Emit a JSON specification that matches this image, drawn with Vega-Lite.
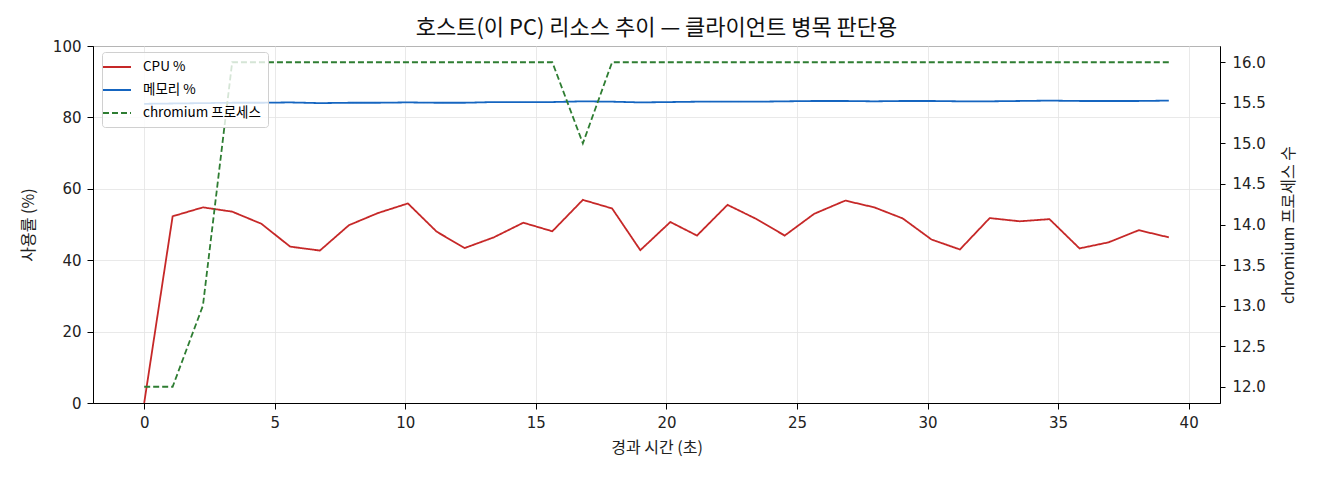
{
  "$schema": "https://vega.github.io/schema/vega-lite/v6.json",
  "width": 1127,
  "height": 357,
  "autosize": {"type": "none"},
  "padding": {"left": 93, "top": 46, "right": 100, "bottom": 77},
  "background": "white",
  "config": {
    "font": "Noto Sans CJK KR",
    "view": {"stroke": "black", "strokeWidth": 1},
    "axis": {
      "labelFont": "DejaVu Sans",
      "titleFont": "Noto Sans CJK KR",
      "labelFontSize": 15,
      "titleFontSize": 16,
      "titleFontWeight": "normal",
      "labelColor": "#222",
      "titleColor": "#222",
      "domainColor": "black",
      "tickColor": "black",
      "tickSize": 5,
      "labelPadding": 5,
      "gridColor": "#e3e3e3",
      "gridWidth": 0.8
    },
    "legend": {"labelFont": "Noto Sans CJK KR", "labelFontSize": 13.5}
  },
  "title": {
    "text": "호스트(이 PC) 리소스 추이 — 클라이언트 병목 판단용",
    "fontSize": 22,
    "fontWeight": "normal",
    "font": "Noto Sans CJK KR",
    "color": "#111",
    "anchor": "middle",
    "offset": 5,
    "dy": 6
  },
  "data": {
    "values": [
      {"t": 0, "cpu": 0, "mem": 83.8, "chromium": 12},
      {"t": 1.09, "cpu": 52.3, "mem": 83.9, "chromium": 12},
      {"t": 2.25, "cpu": 54.8, "mem": 84.0, "chromium": 13},
      {"t": 3.37, "cpu": 53.6, "mem": 84.1, "chromium": 16},
      {"t": 4.49, "cpu": 50.2, "mem": 84.1, "chromium": 16},
      {"t": 5.59, "cpu": 43.8, "mem": 84.2, "chromium": 16},
      {"t": 6.73, "cpu": 42.7, "mem": 84.0, "chromium": 16},
      {"t": 7.84, "cpu": 49.8, "mem": 84.1, "chromium": 16},
      {"t": 8.95, "cpu": 53.2, "mem": 84.1, "chromium": 16},
      {"t": 10.1, "cpu": 55.9, "mem": 84.2, "chromium": 16},
      {"t": 11.2, "cpu": 48.0, "mem": 84.1, "chromium": 16},
      {"t": 12.27, "cpu": 43.4, "mem": 84.1, "chromium": 16},
      {"t": 13.39, "cpu": 46.4, "mem": 84.3, "chromium": 16},
      {"t": 14.52, "cpu": 50.5, "mem": 84.3, "chromium": 16},
      {"t": 15.63, "cpu": 48.1, "mem": 84.3, "chromium": 16},
      {"t": 16.8, "cpu": 56.9, "mem": 84.5, "chromium": 15},
      {"t": 17.92, "cpu": 54.5, "mem": 84.4, "chromium": 16},
      {"t": 19.0, "cpu": 42.8, "mem": 84.2, "chromium": 16},
      {"t": 20.15, "cpu": 50.7, "mem": 84.3, "chromium": 16},
      {"t": 21.17, "cpu": 46.9, "mem": 84.4, "chromium": 16},
      {"t": 22.34, "cpu": 55.5, "mem": 84.4, "chromium": 16},
      {"t": 23.43, "cpu": 51.6, "mem": 84.4, "chromium": 16},
      {"t": 24.53, "cpu": 46.9, "mem": 84.5, "chromium": 16},
      {"t": 25.66, "cpu": 53.0, "mem": 84.6, "chromium": 16},
      {"t": 26.85, "cpu": 56.7, "mem": 84.6, "chromium": 16},
      {"t": 27.96, "cpu": 54.8, "mem": 84.5, "chromium": 16},
      {"t": 29.05, "cpu": 51.7, "mem": 84.6, "chromium": 16},
      {"t": 30.15, "cpu": 45.8, "mem": 84.6, "chromium": 16},
      {"t": 31.24, "cpu": 43.0, "mem": 84.5, "chromium": 16},
      {"t": 32.38, "cpu": 51.8, "mem": 84.5, "chromium": 16},
      {"t": 33.53, "cpu": 50.9, "mem": 84.6, "chromium": 16},
      {"t": 34.67, "cpu": 51.5, "mem": 84.7, "chromium": 16},
      {"t": 35.82, "cpu": 43.3, "mem": 84.6, "chromium": 16},
      {"t": 36.93, "cpu": 45.0, "mem": 84.6, "chromium": 16},
      {"t": 38.09, "cpu": 48.4, "mem": 84.6, "chromium": 16},
      {"t": 39.24, "cpu": 46.4, "mem": 84.7, "chromium": 16}
    ]
  },
  "encoding": {
    "x": {
      "field": "t",
      "type": "quantitative",
      "scale": {"domain": [-1.96, 41.2], "nice": false, "zero": false},
      "axis": {"values": [0, 5, 10, 15, 20, 25, 30, 35, 40], "title": "경과 시간 (초)", "titlePadding": 9, "grid": true, "tickSize": 6, "labelPadding": 6}
    }
  },
  "layer": [
    {
      "transform": [{"fold": ["cpu", "mem"], "as": ["series", "value"]}],
      "mark": {"type": "line", "strokeWidth": 1.8, "clip": true},
      "encoding": {
        "y": {
          "field": "value",
          "type": "quantitative",
          "scale": {"domain": [0, 100], "nice": false},
          "axis": {"values": [0, 20, 40, 60, 80, 100], "title": "사용률 (%)", "titlePadding": 16, "grid": true, "tickSize": 6, "labelPadding": 6}
        },
        "color": {"field": "series", "type": "nominal"},
        "strokeDash": {"field": "series", "type": "nominal"}
      }
    },
    {
      "transform": [{"fold": ["chromium"], "as": ["series", "value"]}],
      "mark": {"type": "line", "strokeWidth": 1.8, "clip": true},
      "encoding": {
        "y": {
          "field": "value",
          "type": "quantitative",
          "scale": {"domain": [11.8, 16.2], "nice": false, "zero": false},
          "axis": {"orient": "right", "values": [12, 12.5, 13, 13.5, 14, 14.5, 15, 15.5, 16], "format": ".1f", "title": "chromium 프로세스 수", "titleAngle": 270, "titleBaseline": "top", "titlePadding": 15, "grid": false, "tickSize": 5, "labelPadding": 7}
        },
        "color": {
          "field": "series",
          "type": "nominal",
          "scale": {"domain": ["cpu", "mem", "chromium"], "range": ["#c62828", "#1565c0", "#2e7d32"]},
          "legend": {
            "title": null,
            "orient": "none",
            "legendX": 9,
            "legendY": 6,
            "symbolType": "M-2,0H2",
            "symbolSize": 196,
            "symbolStrokeWidth": 1.8,
            "labelOffset": 18,
            "labelExpr": "datum.label == 'cpu' ? 'CPU %' : datum.label == 'mem' ? '메모리 %' : 'chromium 프로세스'",
            "fillColor": "rgba(255,255,255,0.8)",
            "strokeColor": "#d0d0d0",
            "cornerRadius": 3,
            "padding": 7,
            "rowPadding": 8
          }
        },
        "strokeDash": {
          "field": "series",
          "type": "nominal",
          "scale": {"domain": ["cpu", "mem", "chromium"], "range": [[1, 0], [1, 0], [6, 3]]},
          "legend": {
            "title": null,
            "orient": "none",
            "legendX": 9,
            "legendY": 6,
            "symbolType": "M-2,0H2",
            "symbolSize": 196,
            "symbolStrokeWidth": 1.8,
            "labelOffset": 18,
            "labelExpr": "datum.label == 'cpu' ? 'CPU %' : datum.label == 'mem' ? '메모리 %' : 'chromium 프로세스'",
            "fillColor": "rgba(255,255,255,0.8)",
            "strokeColor": "#d0d0d0",
            "cornerRadius": 3,
            "padding": 7,
            "rowPadding": 8
          }
        }
      }
    }
  ],
  "resolve": {"scale": {"y": "independent"}}
}
